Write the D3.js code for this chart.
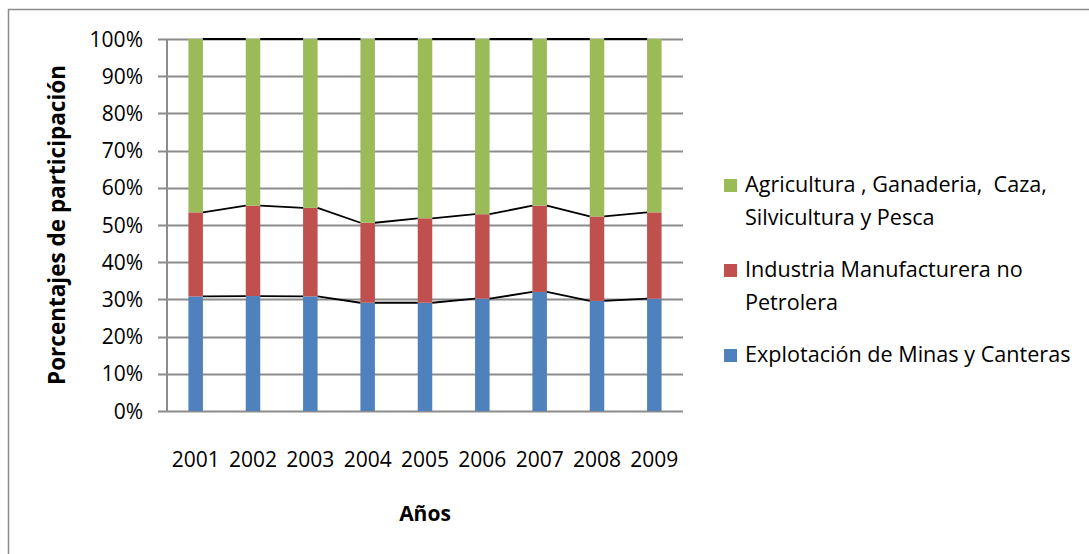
<!DOCTYPE html>
<html>
<head>
<meta charset="utf-8">
<script src="https://cdn.jsdelivr.net/npm/d3@7"></script>
<style>
  body { margin: 0; background: #fff; }
  svg { display: block; font-family: 'Open Sans', sans-serif; }
</style>
</head>
<body>
<div class="chart-container"></div>
<script>
const w = 1089,
      h = 554;

const margin = { top: 39, right: 406, bottom: 143, left: 167 };

const years = ['2001', '2002', '2003', '2004', '2005', '2006', '2007', '2008', '2009'];

// participation shares (%) per year
const minas = [30.8, 30.9, 30.8, 29.1, 29.1, 30.2, 32.0, 29.6, 30.2];
const industria = [22.6, 24.3, 23.8, 21.5, 22.7, 22.7, 23.2, 22.7, 23.2];
const agricultura = [46.6, 44.8, 45.4, 49.4, 48.2, 47.1, 44.8, 47.7, 46.6];

const yTicks = [0, 0.1, 0.2, 0.3, 0.4, 0.5, 0.6, 0.7, 0.8, 0.9, 1];

const seriesNames = ['minas', 'industria', 'agricultura'];
const color = {
  minas: '#4F81BD',
  industria: '#C0504D',
  agricultura: '#9BBB59'
};

const legendItems = [
  { key: 'agricultura', lines: ['Agricultura , Ganaderia,  Caza,', 'Silvicultura y Pesca'] },
  { key: 'industria', lines: ['Industria Manufacturera no', 'Petrolera'] },
  { key: 'minas', lines: ['Explotación de Minas y Canteras'] }
];

const table = years.map((y, i) => ({
  year: y,
  minas: minas[i],
  industria: industria[i],
  agricultura: agricultura[i]
}));

const stacked = d3.stack()
  .keys(seriesNames)
  .offset(d3.stackOffsetExpand)(table);

const svg = d3
  .select('.chart-container')
  .append('svg')
  .attr('width', w)
  .attr('height', h);

// chart area border
svg.append('rect')
  .attr('x', 8.5)
  .attr('y', 9.5)
  .attr('width', w + 20)
  .attr('height', h + 20)
  .attr('fill', '#fff')
  .attr('stroke', '#8c8c8c')
  .attr('stroke-width', 1.5);

const xScale = d3.scaleBand()
  .domain(years)
  .range([margin.left, w - margin.right]);

const yScale = d3.scaleLinear()
  .domain([0, 1])
  .range([h - margin.bottom, margin.top]);

const barW = 14.5;

// gridlines
svg.append('g')
  .selectAll('line')
  .data(yTicks)
  .enter()
  .append('line')
  .attr('x1', margin.left - 9)
  .attr('x2', w - margin.right)
  .attr('y1', d => Math.round(yScale(d)) + 0.5)
  .attr('y2', d => Math.round(yScale(d)) + 0.5)
  .attr('stroke', '#8c8c8c')
  .attr('stroke-width', 2);

// y axis line
svg.append('line')
  .attr('x1', margin.left)
  .attr('x2', margin.left)
  .attr('y1', yScale(1))
  .attr('y2', yScale(0))
  .attr('stroke', '#8c8c8c')
  .attr('stroke-width', 2);

// bars
const layers = svg.append('g')
  .selectAll('g')
  .data(stacked)
  .enter()
  .append('g')
  .attr('fill', d => color[d.key]);

layers.selectAll('rect')
  .data(d => d)
  .enter()
  .append('rect')
  .attr('x', d => xScale(d.data.year) + xScale.bandwidth() / 2 - barW / 2)
  .attr('width', barW)
  .attr('y', d => yScale(d[1]))
  .attr('height', d => yScale(d[0]) - yScale(d[1]));

// series lines between bars
stacked.forEach(layer => {
  const segs = d3.pairs(layer);
  svg.append('g')
    .selectAll('line')
    .data(segs)
    .enter()
    .append('line')
    .attr('x1', d => xScale(d[0].data.year) + xScale.bandwidth() / 2 + barW / 2)
    .attr('x2', d => xScale(d[1].data.year) + xScale.bandwidth() / 2 - barW / 2)
    .attr('y1', d => yScale(d[0][1]))
    .attr('y2', d => yScale(d[1][1]))
    .attr('stroke', '#000')
    .attr('stroke-width', 1.8);
});

// y tick labels
svg.append('g')
  .selectAll('text')
  .data(yTicks)
  .enter()
  .append('text')
  .attr('x', 143)
  .attr('y', d => yScale(d))
  .attr('dy', '0.36em')
  .attr('text-anchor', 'end')
  .style('font-size', '21px')
  .attr('fill', '#000')
  .text(d3.format('.0%'));

// x tick labels
svg.append('g')
  .selectAll('text')
  .data(years)
  .enter()
  .append('text')
  .attr('x', d => xScale(d) + xScale.bandwidth() / 2)
  .attr('y', 467)
  .attr('text-anchor', 'middle')
  .style('font-size', '21px')
  .text(d => d);

// axis titles
svg.append('text')
  .attr('x', (margin.left + w - margin.right) / 2)
  .attr('y', 521)
  .attr('text-anchor', 'middle')
  .style('font-size', '21px')
  .style('font-weight', 'bold')
  .text('Años');

svg.append('text')
  .attr('transform', `translate(65, ${(yScale(0) + yScale(1)) / 2}) rotate(-90)`)
  .attr('text-anchor', 'middle')
  .style('font-size', '22.5px')
  .style('font-weight', 'bold')
  .text('Porcentajes de participación');

// legend
const legendTop = [192, 277, 362];

const legend = svg.append('g')
  .selectAll('g')
  .data(legendItems)
  .enter()
  .append('g')
  .attr('transform', (d, i) => `translate(724, ${legendTop[i]})`);

legend.append('rect')
  .attr('x', 0)
  .attr('y', -13)
  .attr('width', 13)
  .attr('height', 13)
  .attr('fill', d => color[d.key]);

legend.append('text')
  .attr('x', 21)
  .attr('y', 0)
  .style('font-size', '21.6px')
  .style('white-space', 'pre')
  .selectAll('tspan')
  .data(d => d.lines)
  .enter()
  .append('tspan')
  .attr('x', 21)
  .attr('dy', (d, i) => i === 0 ? 0 : 32.5)
  .text(d => d);
</script>
</body>
</html>
